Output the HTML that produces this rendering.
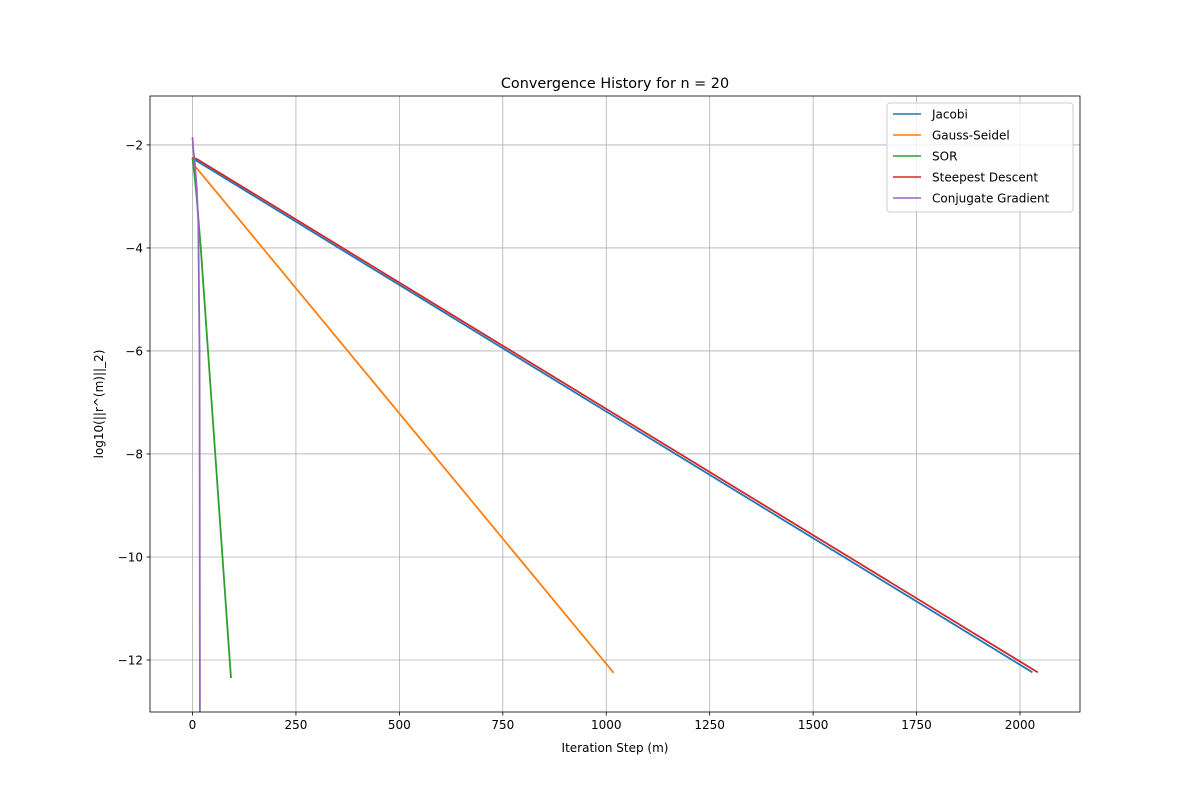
<!DOCTYPE html>
<html><head><meta charset="utf-8"><style>
html,body{margin:0;padding:0;background:#fff;overflow:hidden;width:1200px;height:800px}
svg{display:block;overflow:hidden}
</style></head><body>
<svg id="chart" width="1200" height="800" xmlns="http://www.w3.org/2000/svg" font-family="DejaVu Sans, Liberation Sans, sans-serif"></svg>
<script>
const xTicks=[0,250,500,750,1000,1250,1500,1750,2000];
const yTicks=[-2,-4,-6,-8,-10,-12];
const seriesNames=["Jacobi","Gauss-Seidel","SOR","Steepest Descent","Conjugate Gradient"];
const seriesColors=["#1f77b4","#ff7f0e","#2ca02c","#d62728","#9467bd"];
const jacobiX=[0,8,2030];
const jacobiY=[-2.25,-2.3,-12.24];
const gaussX=[0,5,1018];
const gaussY=[-2.25,-2.4,-12.25];
const sorX=[0,5,10,20,93];
const sorY=[-2.25,-2.6,-3.0,-4.0,-12.35];
const sdX=[0,10,2043];
const sdY=[-2.25,-2.27,-12.24];
const cgX=[0,2,5,10,14,17,18];
const cgY=[-1.85,-2.1,-2.3,-2.8,-3.5,-6,-13.2];
const allX=[jacobiX,gaussX,sorX,sdX,cgX], allY=[jacobiY,gaussY,sorY,sdY,cgY];

const L=150,R=1080,T=96,B=712;
const xmin=-102.7,xmax=2145,ymin=-13.01,ymax=-1.05;
const sx=v=>L+(v-xmin)/(xmax-xmin)*(R-L);
const sy=v=>B-(v-ymin)/(ymax-ymin)*(B-T);
const svg=document.getElementById('chart');
const NS="http://www.w3.org/2000/svg";
function mk(tag,attrs,parent){const e=document.createElementNS(NS,tag);for(const k in attrs)e.setAttribute(k,attrs[k]);(parent||svg).appendChild(e);return e;}
const defs=mk('defs',{});const cp=mk('clipPath',{id:'clip'},defs);mk('rect',{x:L,y:T,width:R-L,height:B-T},cp);
xTicks.forEach(t=>{const x=sx(t);
 const g=mk('line',{x1:x,x2:x,y1:T,y2:B,stroke:'#b0b0b0','stroke-width':0.8});
 
 
 mk('line',{x1:x,x2:x,y1:B,y2:B+3.5,stroke:'#000','stroke-width':0.8});
 const tx=mk('text',{x:x,y:B+17,'text-anchor':'middle','font-size':12});tx.textContent=t;
 
 
});
yTicks.forEach(t=>{const y=sy(t);
 const g=mk('line',{x1:L,x2:R,y1:y,y2:y,stroke:'#b0b0b0','stroke-width':0.8});
 
 
 mk('line',{x1:L-3.5,x2:L,y1:y,y2:y,stroke:'#000','stroke-width':0.8});
 const tx=mk('text',{x:L-7,y:y+4.5,'text-anchor':'end','font-size':12});tx.textContent='\u2212'+Math.abs(t);
 
 
});
allX.forEach((xs,i)=>{
 const d=xs.map((v,j)=>(j?'L':'M')+sx(v)+','+sy(allY[i][j])).join(' ');
 const p=mk('path',{d:d,fill:'none',stroke:seriesColors[i],'stroke-width':1.8,'stroke-linejoin':'round','clip-path':'url(#clip)'});
 
 
});
const frame=mk('rect',{x:L,y:T,width:R-L,height:B-T,fill:'none',stroke:'#000','stroke-width':0.8});


const title=mk('text',{x:(L+R)/2,y:88,'text-anchor':'middle','font-size':14.4});title.textContent='Convergence History for n = 20';


const xl=mk('text',{x:(L+R)/2,y:752,'text-anchor':'middle','font-size':12});xl.textContent='Iteration Step (m)';


const yl=mk('text',{x:0,y:0,'text-anchor':'middle','font-size':12,transform:'translate(103,404) rotate(-90)'});yl.textContent='log10(||r^(m)||_2)';


const lg=mk('g',{});


mk('rect',{x:887,y:103,width:186,height:109,rx:3,fill:'#fff','fill-opacity':0.8,stroke:'#ccc','stroke-width':1},lg);
seriesNames.forEach((n,i)=>{const y=114+i*21;
 mk('line',{x1:893,x2:921,y1:y,y2:y,stroke:seriesColors[i],'stroke-width':1.5},lg);
 const t=mk('text',{x:932,y:y+4.5,'font-size':12},lg);t.textContent=n;
 
 
});
</script>
</body></html>
